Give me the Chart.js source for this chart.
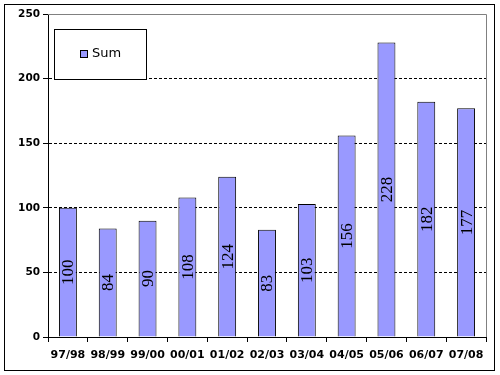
<!DOCTYPE html>
<html>
<head>
<meta charset="utf-8">
<script src="https://cdn.jsdelivr.net/npm/chart.js@4/dist/chart.umd.min.js"></script>
<style>
  html, body { margin: 0; padding: 0; background: #fff; }
  #wrap { width: 500px; height: 375px; }
</style>
</head>
<body>
<div id="wrap"><canvas id="chart-sum" width="500" height="375"></canvas></div>
<script>
const seasons = ["97/98", "98/99", "99/00", "00/01", "01/02", "02/03", "03/04", "04/05", "05/06", "06/07", "07/08"];
const sumValues = [100, 84, 90, 108, 124, 83, 103, 156, 228, 182, 177];
const yTicks = [0, 50, 100, 150, 200, 250];
const seriesName = "Sum";

const AXIS_FONT = "'DejaVu Sans', Verdana, sans-serif";

// white background + outer frame, gray top/right plot border
const framePlugin = {
  id: "frame",
  beforeDraw(chart) {
    const c = chart.ctx;
    c.save();
    c.fillStyle = "#fff";
    c.fillRect(0, 0, chart.width, chart.height);
    c.strokeStyle = "#000";
    c.lineWidth = 1;
    c.strokeRect(4.5, 4.5, 490, 366);
    c.restore();
  },
  afterDatasetsDraw(chart) {
    const a = chart.chartArea;
    const c = chart.ctx;
    c.save();
    c.strokeStyle = "#808080";
    c.lineWidth = 1;
    c.beginPath();
    c.moveTo(a.left, Math.round(a.top) + 0.5);
    c.lineTo(Math.round(a.right) + 0.5, Math.round(a.top) + 0.5);
    c.lineTo(Math.round(a.right) + 0.5, a.bottom);
    c.stroke();
    c.restore();
  }
};

// rotated value labels in the middle of each bar
const valueLabels = {
  id: "valueLabels",
  afterDatasetsDraw(chart) {
    const c = chart.ctx;
    const meta = chart.getDatasetMeta(0);
    c.save();
    c.fillStyle = "#000";
    c.font = "17px 'Liberation Serif', 'Times New Roman', serif";
    c.textAlign = "center";
    c.textBaseline = "middle";
    meta.data.forEach((bar, i) => {
      const mid = (bar.y + bar.base) / 2;
      c.save();
      c.translate(bar.x + 1, mid);
      c.rotate(-Math.PI / 2);
      c.fillText(String(sumValues[i]), 0, 0);
      c.restore();
    });
    c.restore();
  }
};

// boxed legend sitting inside the plot
const boxLegend = {
  id: "boxLegend",
  afterDraw(chart) {
    const c = chart.ctx;
    c.save();
    c.fillStyle = "#fff";
    c.fillRect(54.5, 29.5, 92, 50);
    c.strokeStyle = "#000";
    c.lineWidth = 1;
    c.strokeRect(54.5, 29.5, 92, 50);
    c.fillStyle = "#9999ff";
    c.fillRect(80.5, 50.5, 7, 7);
    c.strokeRect(80.5, 50.5, 7, 7);
    c.fillStyle = "#000";
    c.font = "13px " + AXIS_FONT;
    c.textBaseline = "middle";
    c.fillText(seriesName, 92, 54);
    c.restore();
  }
};

new Chart(document.getElementById("chart-sum"), {
  type: "bar",
  data: {
    labels: seasons,
    datasets: [
      {
        label: seriesName,
        data: sumValues,
        backgroundColor: "#9999ff",
        borderColor: "#000",
        borderWidth: 1,
        barPercentage: 0.45,
        categoryPercentage: 1,
      },
    ],
  },
  options: {
    responsive: false,
    animation: false,
    layout: { padding: { left: 0, top: 14, right: 14, bottom: 9 } },
    plugins: {
      legend: { display: false },
      tooltip: { enabled: false },
    },
    scales: {
      x: {
        grid: {
          offset: true,
          drawOnChartArea: false,
          tickLength: 5,
          tickColor: "#000",
        },
        border: { color: "#000", width: 1 },
        ticks: {
          color: "#000",
          font: { family: AXIS_FONT, size: 11, weight: "bold" },
          padding: 7,
          maxRotation: 0,
          autoSkip: false,
        },
        afterFit(scale) { scale.height = 29; },
      },
      y: {
        min: 0,
        max: 250,
        afterBuildTicks(scale) {
          scale.ticks = yTicks.map(v => ({ value: v }));
        },
        grid: {
          color: ctx => (ctx.tick && (ctx.tick.value === 0 || ctx.tick.value === 250)) ? "rgba(0,0,0,0)" : "#000",
          tickColor: "#000",
          tickLength: 5,
        },
        border: { color: "#000", width: 1, dash: [3, 2] },
        ticks: {
          color: "#000",
          font: { family: AXIS_FONT, size: 10.5, weight: "bold" },
          padding: 3,
        },
        afterFit(scale) { scale.width = 48; },
      },
    },
  },
  plugins: [framePlugin, valueLabels, boxLegend],
});
</script>
</body>
</html>
